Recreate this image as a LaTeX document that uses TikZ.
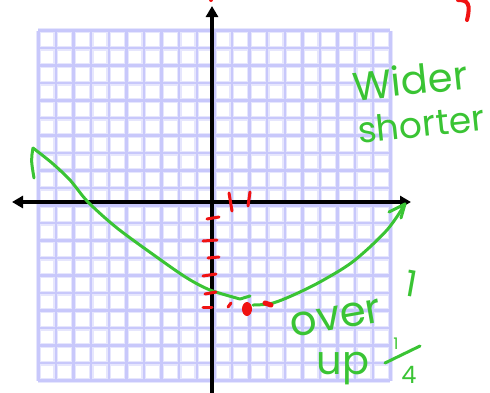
\documentclass[tikz,border=0pt]{standalone}
\usepackage{fontspec}
\setmainfont{Poppins}
\usetikzlibrary{arrows.meta}
\definecolor{gridblue}{RGB}{200,200,251}
\definecolor{gridhalo}{RGB}{230,230,253}
\definecolor{pen}{RGB}{58,196,52}
\definecolor{ink}{RGB}{240,18,18}
\tikzset{
  halo/.style={gridhalo, line width=5pt},
  gline/.style={gridblue, line width=2.4pt},
  axis/.style={black, line width=4pt, -{Triangle[length=11pt,width=12pt]}},
  greenpen/.style={pen, line width=3pt, line cap=round, line join=round},
  redpen/.style={ink, line width=3pt, line cap=round},
  hand/.style={pen, inner sep=0pt},
}
\begin{document}
\begin{tikzpicture}[x=1pt,y=-1pt]
\useasboundingbox (0,0) rectangle (490,392);
\clip (0,0) rectangle (490,392);
% grid
\foreach \i in {0,...,20} {
  \draw[halo] (38.3+17.6*\i,30.5) -- (38.3+17.6*\i,380.5);
  \draw[halo] (38.3,30.5+17.5*\i) -- (390.3,30.5+17.5*\i);
}
\foreach \i in {0,...,20} {
  \draw[gline] (38.3+17.6*\i,30.5) -- (38.3+17.6*\i,380.5);
  \draw[gline] (38.3,30.5+17.5*\i) -- (390.3,30.5+17.5*\i);
}
% axes
\coordinate (xl) at (12,202);
\coordinate (xr) at (411,202);
\coordinate (yt) at (212,6);
\coordinate (yb) at (212,404);
\coordinate (o) at (212,202);
\draw[axis] (o) -- (xr);
\draw[axis] (o) -- (xl);
\draw[axis] (o) -- (yt);
\draw[axis] (o) -- (yb);
% parabola (green)
\draw[greenpen] plot[smooth, tension=0.5] coordinates {(33,148) (52,163) (70,180) (88,202) (117,228) (158,258) (187,278) (210,290) (240,299)} -- (250,296);
\draw[greenpen] plot[smooth, tension=0.55] coordinates {(253,305) (273,303) (300,292) (327,278) (355,260) (387,230) (405,204)};
\draw[greenpen] (33,148) .. controls (31,160) .. (34,178);
\draw[greenpen] (389,212) -- (405,204) -- (401,218);
% red marks
\draw[redpen] (207,219) -- (219,217);
\draw[redpen] (203,241) -- (217,240);
\draw[redpen] (208,258) -- (219,257);
\draw[redpen] (203,276) -- (216,274);
\draw[redpen] (205,294) -- (216,292);
\draw[redpen] (203,307) -- (212,307);
\draw[redpen] (229,193) -- (232,211);
\draw[redpen] (250,192) -- (248,206);
\draw[redpen] (228,307) -- (231,303);
\fill[ink] (247,309) ellipse (5pt and 7pt);
\draw[ink, line width=5pt, line cap=round] (265,303) -- (271,305);
\fill[ink] (211,0) circle (2pt);
\draw[redpen, line width=4pt] (458,0) .. controls (468,0) and (471,4) .. (467,20);
% handwritten text
\node[hand, rotate=6, font=\fontsize{40}{40}\selectfont] (wider) at (410,80) {Wider};
\node[hand, rotate=6, font=\fontsize{36}{36}\selectfont] (shorter) at (421,124) {shorter};
\node[hand, rotate=10, font=\fontsize{42}{42}\selectfont] (over) at (336,318) {over};
\node[hand, rotate=-10, font=\fontsize{36}{36}\selectfont] (one) at (411,284) {1};
\node[hand, font=\fontsize{40}{40}\selectfont] (up) at (343,369) {up};
\node[hand, font=\fontsize{16}{16}\selectfont] (num) at (396,344) {1};
\draw[greenpen] (385,363) -- (420,346);
\node[hand, font=\fontsize{24}{24}\selectfont] (den) at (409,375) {4};
\end{tikzpicture}
\end{document}
